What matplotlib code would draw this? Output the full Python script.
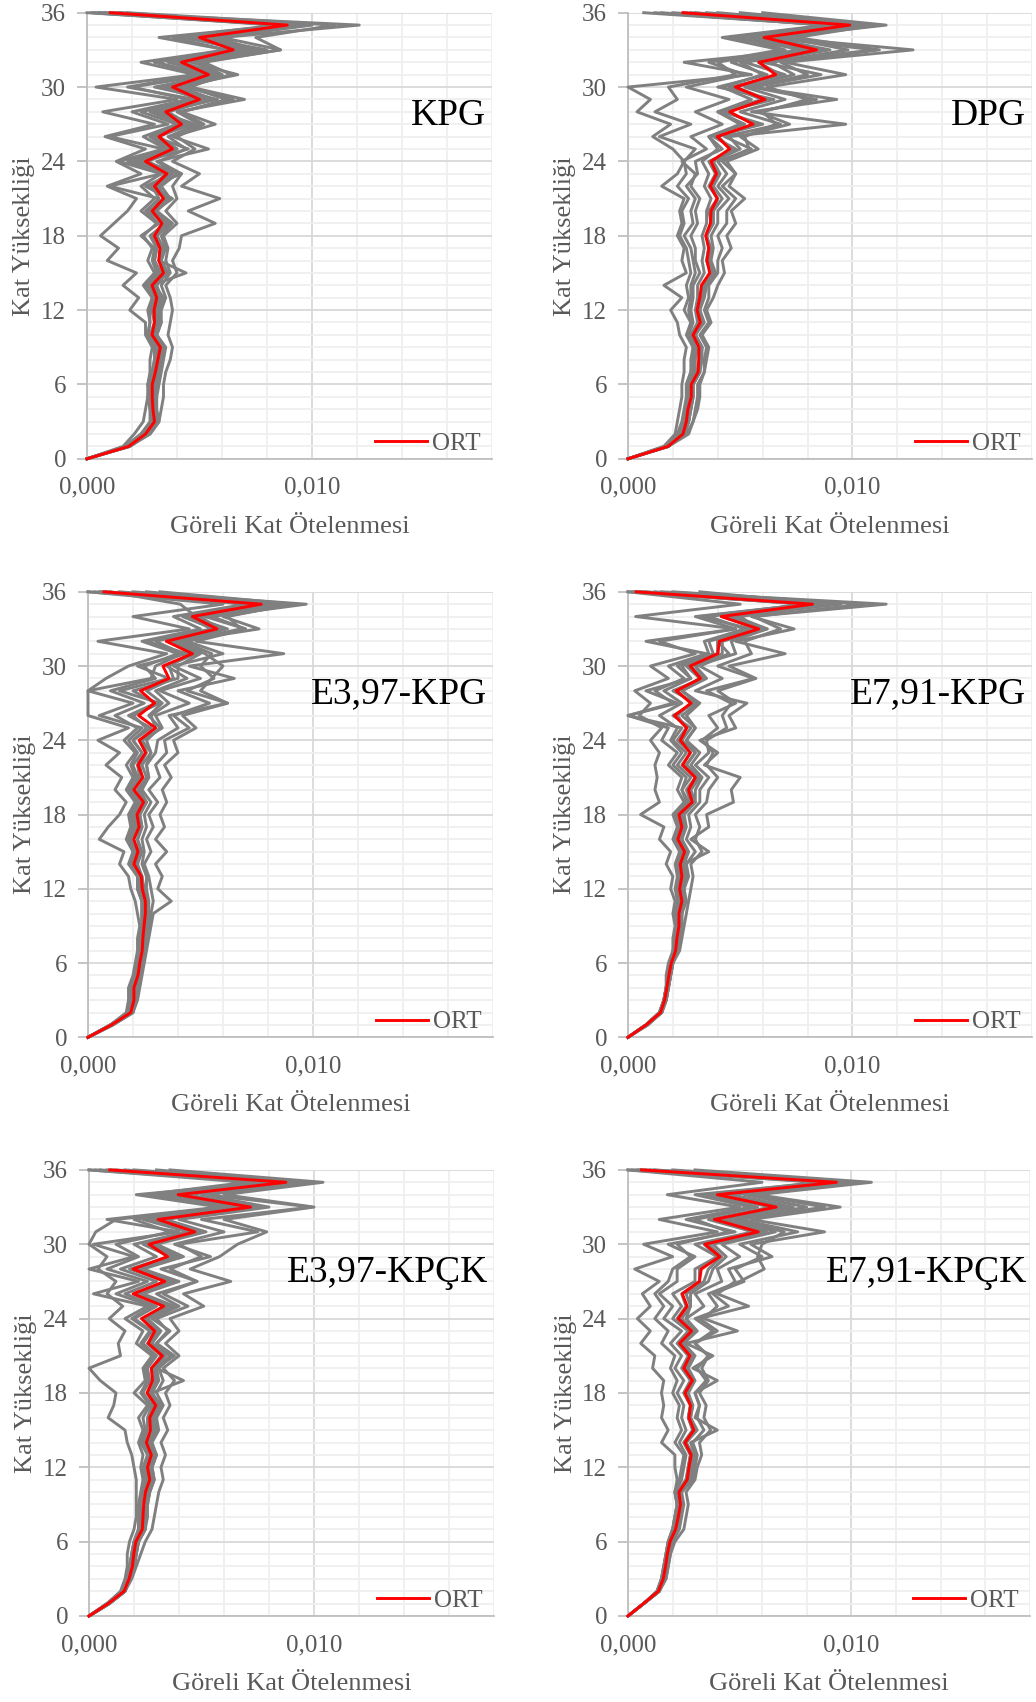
import matplotlib
matplotlib.use("Agg")
import matplotlib.pyplot as plt
from matplotlib.ticker import MultipleLocator, FuncFormatter

plt.rcParams['font.family'] = ['Liberation Serif', 'DejaVu Serif']

# Interstorey drift ratios, in units of 1e-4, for stories 0..36
stories = list(range(37))

kpg_ort = [0, 18.5, 26, 30, 29.3, 29, 29, 30.4, 31.5, 32.6, 28.9, 30, 29.8, 31, 28.9, 34, 31.9, 32.4, 30,
           33.3, 29, 34, 30, 35.5, 26, 38, 32, 42, 35, 50, 38, 54, 42, 65, 50, 89, 10.4]
kpg_records = [
    [0, 18, 28, 32, 33, 34, 34, 35, 37, 38, 36, 37, 38, 37, 35, 40, 38, 41, 42, 57, 45, 59, 42, 50, 38, 48, 40, 52, 42, 62, 45, 60, 50, 86, 60, 121, 5],
    [0, 17, 24, 29, 30, 30, 31, 32, 33, 34, 31, 33, 32, 34, 30, 36, 33, 34, 31, 37, 30, 38, 28, 42, 25, 45, 30, 48, 32, 58, 35, 60, 40, 78, 45, 92, 8],
    [0, 19, 27, 31, 30, 29, 28, 30, 31, 32, 29, 30, 29, 31, 27, 33, 30, 31, 28, 35, 27, 36, 26, 38, 20, 40, 28, 46, 30, 55, 30, 58, 36, 72, 42, 90, 3],
    [0, 16, 21, 25, 26, 27, 27, 28, 28, 29, 26, 26, 19, 23, 16, 22, 9, 14, 6, 12, 18, 22, 9, 24, 13, 26, 8, 30, 7, 40, 4, 48, 24, 62, 32, 88, 0],
    [0, 18, 26, 30, 29, 29, 30, 31, 32, 33, 30, 31, 30, 32, 29, 44, 32, 33, 31, 35, 28, 34, 32, 36, 24, 38, 30, 44, 34, 52, 40, 67, 46, 70, 55, 95, 12],
    [0, 18, 25, 29, 28, 28, 27, 29, 30, 31, 27, 28, 27, 29, 25, 30, 27, 29, 25, 31, 24, 30, 24, 33, 14, 34, 10, 36, 20, 45, 20, 55, 30, 75, 48, 85, 6],
    [0, 19, 28, 32, 31, 31, 32, 33, 34, 35, 31, 33, 33, 35, 33, 37, 35, 36, 34, 40, 35, 40, 38, 42, 32, 44, 36, 50, 40, 70, 46, 60, 42, 80, 50, 98, 15],
    [0, 17, 24, 28, 28, 27, 28, 29, 30, 30, 27, 28, 28, 29, 26, 31, 29, 30, 24, 32, 26, 32, 10, 33, 18, 35, 25, 40, 24, 48, 18, 50, 30, 62, 38, 84, 2],
    [0, 18, 27, 31, 30, 30, 30, 31, 32, 33, 30, 32, 31, 33, 31, 35, 33, 35, 33, 38, 31, 37, 33, 40, 31, 54, 38, 57, 42, 65, 44, 64, 52, 86, 75, 110, 18],
    [0, 18, 26, 30, 29, 28, 29, 30, 31, 31, 28, 30, 29, 30, 28, 32, 30, 31, 29, 34, 29, 32, 29, 35, 22, 36, 28, 42, 28, 50, 34, 52, 40, 68, 45, 87, 10],
    [0, 19, 27, 31, 30, 30, 30, 31, 33, 34, 30, 31, 31, 33, 30, 35, 32, 34, 31, 36, 30, 36, 31, 38, 27, 40, 32, 45, 36, 56, 42, 58, 48, 75, 58, 100, 14],
]

dpg_ort = [0, 17.8, 24.5, 26, 26.7, 28.2, 28.2, 31.2, 31.5, 31.6, 29, 32.2, 30.8, 32, 32.7, 36.4, 35.2, 36, 34.6,
           36.7, 37, 39.7, 36.7, 39.4, 37, 45.3, 39.8, 55.7, 45.3, 61, 47.8, 65.8, 58.4, 84, 60.6, 98.8, 24.5]
dpg_records = [
    [0, 17, 26, 29, 31, 32, 32, 34, 35, 36, 33, 37, 35, 38, 40, 43, 42, 46, 44, 48, 46, 52, 45, 48, 42, 54, 52, 66, 60, 80, 62, 97, 70, 127, 66, 115, 60],
    [0, 17, 24, 27, 28, 29, 29, 32, 32, 33, 30, 33, 32, 33, 34, 38, 36, 37, 35, 38, 38, 42, 38, 41, 38, 50, 45, 97, 55, 93, 56, 86, 60, 110, 62, 105, 40],
    [0, 16, 22, 24, 25, 26, 26, 28, 28, 29, 26, 28, 27, 28, 28, 30, 29, 28, 25, 29, 28, 30, 26, 31, 30, 42, 36, 50, 40, 60, 45, 70, 52, 88, 58, 96, 25],
    [0, 16, 21, 22, 23, 24, 24, 25, 25, 26, 23, 22, 19, 24, 16, 26, 24, 25, 22, 24, 23, 25, 15, 22, 25, 20, 11, 19, 4, 10, 0, 55, 25, 80, 45, 90, 7],
    [0, 18, 25, 27, 27, 28, 28, 31, 32, 32, 29, 32, 31, 33, 33, 37, 35, 36, 35, 38, 38, 40, 37, 40, 38, 46, 40, 57, 44, 62, 48, 68, 58, 90, 62, 100, 28],
    [0, 18, 25, 27, 28, 29, 29, 32, 33, 33, 30, 34, 32, 34, 35, 39, 37, 38, 37, 40, 40, 45, 40, 44, 40, 55, 43, 68, 50, 70, 52, 74, 64, 98, 70, 108, 35],
    [0, 17, 23, 25, 26, 27, 27, 29, 29, 30, 27, 28, 25, 27, 26, 28, 27, 26, 23, 25, 24, 27, 22, 26, 25, 30, 14, 28, 12, 22, 18, 48, 40, 70, 50, 88, 12],
    [0, 18, 24, 26, 27, 28, 28, 30, 30, 31, 28, 31, 30, 31, 31, 34, 33, 34, 33, 35, 35, 37, 34, 36, 33, 40, 36, 52, 40, 55, 42, 60, 50, 82, 56, 95, 20],
    [0, 18, 27, 29, 30, 31, 31, 34, 34, 35, 32, 36, 34, 36, 36, 40, 40, 42, 40, 44, 44, 48, 42, 48, 44, 58, 50, 72, 58, 84, 55, 80, 68, 112, 75, 110, 50],
    [0, 17, 23, 25, 26, 26, 26, 28, 29, 29, 27, 29, 28, 29, 29, 32, 30, 30, 28, 31, 30, 32, 28, 30, 24, 35, 28, 42, 30, 45, 26, 52, 36, 68, 42, 88, 15],
    [0, 18, 25, 27, 28, 29, 29, 32, 32, 33, 30, 33, 31, 33, 34, 37, 35, 36, 35, 37, 36, 40, 36, 39, 36, 48, 38, 60, 42, 65, 40, 62, 46, 76, 54, 98, 30],
]

e397_kpg_ort = [0, 10.4, 19, 20.4, 20.4, 22.2, 23, 24.1, 24.4, 24.9, 25.5, 25.5, 24.1, 23.7, 20.4, 22.2, 20.4, 22.7,
                21.8, 24.7, 20.4, 24.4, 22.2, 25.6, 22.7, 30, 22.5, 29.6, 23.3, 36, 33.3, 46.4, 34.8, 57.3, 46.4, 77, 7.1]
e397_kpg_records = [
    [0, 10, 19, 21, 22, 23, 24, 25, 26, 27, 28, 29, 28, 27, 25, 28, 26, 29, 27, 31, 27, 32, 30, 35, 34, 45, 38, 54, 40, 65, 45, 87, 48, 70, 55, 97, 20],
    [0, 11, 20, 22, 23, 24, 25, 26, 27, 28, 29, 37, 31, 33, 30, 35, 30, 34, 32, 35, 33, 37, 34, 40, 38, 48, 42, 62, 50, 55, 60, 52, 40, 76, 60, 92, 32],
    [0, 10, 18, 20, 20, 21, 22, 23, 23, 24, 24, 24, 22, 22, 18, 20, 17, 19, 18, 21, 17, 20, 17, 21, 16, 22, 12, 25, 10, 30, 25, 40, 24, 50, 38, 70, 3],
    [0, 10, 17, 18, 18, 20, 21, 22, 22, 23, 22, 21, 19, 18, 14, 16, 5, 9, 14, 17, 12, 15, 8, 14, 4.4, 18, 0, 0, 0, 8, 18, 35, 4.4, 45, 20, 60, 0],
    [0, 11, 19, 21, 21, 22, 23, 24, 25, 25, 26, 25, 24, 24, 21, 23, 22, 24, 23, 26, 22, 26, 24, 28, 26, 32, 27, 33, 26, 38, 36, 46, 36, 58, 50, 82, 8],
    [0, 10, 19, 20, 20, 22, 23, 24, 24, 24, 25, 25, 23, 23, 20, 21, 20, 22, 21, 24, 19, 23, 22, 24, 20, 28, 18, 30, 20, 40, 40, 50, 40, 62, 46, 78, 5],
    [0, 11, 20, 21, 21, 23, 24, 25, 25, 26, 27, 27, 26, 26, 24, 25, 24, 26, 25, 28, 24, 27, 26, 28, 24, 33, 30, 45, 32, 50, 38, 60, 44, 70, 52, 88, 14],
    [0, 10, 19, 20, 20, 22, 22, 23, 23, 24, 24, 24, 22, 22, 19, 20, 18, 20, 19, 22, 18, 21, 19, 22, 18, 24, 5, 20, 0, 28, 30, 42, 30, 55, 44, 75, 0],
    [0, 10, 18, 19, 19, 21, 22, 23, 24, 24, 25, 25, 24, 23, 20, 22, 20, 23, 22, 24, 20, 24, 23, 26, 24, 30, 28, 36, 30, 44, 35, 48, 38, 60, 48, 41, 10],
    [0, 11, 20, 21, 21, 22, 24, 25, 25, 26, 26, 26, 25, 24, 22, 24, 22, 24, 23, 26, 23, 27, 26, 30, 31, 40, 36, 62, 44, 56, 50, 55, 42, 68, 62, 90, 26],
    [0, 10, 19, 20, 20, 21, 22, 23, 23, 24, 24, 24, 22, 23, 19, 21, 19, 21, 20, 23, 20, 22, 20, 24, 20, 26, 20, 32, 14, 36, 22, 44, 26, 56, 42, 72, 6],
]

e791_kpg_ort = [0, 8.1, 14.5, 16.3, 17.3, 18.2, 19.3, 21.2, 21.8, 22.7, 22.7, 24, 23, 24, 23.3, 25.2, 22.2, 24, 22.7,
                28.6, 27, 30, 24.4, 27.7, 23.3, 26.2, 20.7, 28.1, 21.5, 32.3, 27.7, 40, 40.7, 58.2, 41.5, 82.2, 3.7]
e791_kpg_records = [
    [0, 8, 15, 17, 18, 19, 20, 23, 24, 25, 26, 27, 28, 29, 28, 33, 30, 32, 30, 35, 36, 40, 35, 38, 33, 40, 36, 48, 40, 57, 45, 70, 48, 74, 55, 115, 15],
    [0, 8, 14, 16, 17, 18, 19, 21, 22, 23, 23, 25, 24, 26, 25, 36, 28, 36, 35, 47, 46, 50, 34, 40, 32, 48, 45, 53, 30, 42, 32, 45, 40, 60, 45, 95, 5],
    [0, 8, 14, 16, 17, 17, 18, 20, 20, 21, 20, 21, 19, 20, 17, 19, 14, 16, 5.6, 14, 12, 13, 12, 14, 10, 15, 5, 10, 3, 18, 10, 30, 14, 48, 30, 80, 0],
    [0, 8, 15, 16, 17, 18, 19, 21, 21, 22, 22, 23, 22, 23, 22, 24, 22, 23, 22, 27, 24, 28, 22, 26, 20, 24, 0, 22, 8, 28, 22, 36, 34, 52, 36, 78, 3],
    [0, 9, 15, 17, 18, 19, 20, 22, 23, 24, 24, 25, 25, 26, 25, 27, 24, 26, 25, 30, 30, 33, 28, 32, 26, 30, 26, 32, 24, 35, 30, 42, 42, 62, 44, 85, 8],
    [0, 8, 14, 16, 17, 18, 19, 21, 21, 22, 22, 23, 22, 23, 22, 24, 21, 23, 21, 26, 24, 26, 20, 24, 19, 22, 14, 24, 16, 28, 24, 38, 36, 55, 32, 80, 2],
    [0, 8, 15, 16, 17, 18, 19, 21, 22, 23, 23, 25, 23, 25, 24, 26, 24, 25, 24, 30, 28, 32, 26, 30, 24, 28, 20, 30, 20, 33, 28, 40, 40, 58, 42, 82, 6],
    [0, 8, 14, 16, 17, 18, 19, 20, 21, 22, 21, 22, 21, 22, 21, 23, 20, 22, 20, 25, 22, 24, 18, 22, 15, 18, 0, 20, 12, 25, 18, 35, 8, 48, 3.4, 50, 0],
    [0, 8, 15, 17, 18, 19, 20, 22, 23, 24, 24, 26, 25, 27, 26, 30, 26, 28, 27, 32, 32, 36, 30, 36, 35, 44, 42, 46, 35, 56, 40, 55, 52, 68, 56, 105, 20],
    [0, 8, 14, 16, 17, 18, 19, 21, 22, 22, 22, 24, 22, 24, 23, 25, 22, 24, 23, 28, 26, 30, 24, 28, 22, 26, 22, 28, 22, 32, 26, 40, 40, 58, 50, 88, 12],
    [0, 8, 15, 17, 18, 19, 20, 22, 22, 23, 24, 25, 24, 25, 24, 26, 23, 25, 24, 29, 27, 31, 26, 30, 26, 30, 24, 31, 24, 34, 30, 48, 46, 62, 48, 90, 32],
]

e397_kpck_ort = [0, 8.5, 15.6, 17.8, 19.3, 19.9, 20.8, 23.7, 24, 24.3, 25.1, 27, 26, 27.7, 25.5, 27.3, 27, 29.7, 25.8,
                 28.2, 27.7, 32.6, 26.3, 29.2, 23.3, 33.2, 19.6, 33.7, 19.6, 34.9, 26.7, 47, 30.7, 71.8, 39.6, 87.5, 9.2]
e397_kpck_records = [
    [0, 9, 16, 19, 21, 23, 25, 28, 29, 30, 31, 33, 32, 34, 32, 35, 33, 36, 34, 38, 33, 40, 34, 40, 36, 51, 42, 63, 45, 58, 66, 79, 60, 100, 60, 104, 36],
    [0, 9, 16, 18, 20, 20, 21, 24, 25, 25, 26, 28, 27, 29, 27, 30, 29, 31, 28, 42, 30, 38, 30, 36, 28, 40, 30, 48, 36, 50, 40, 75, 50, 99, 52, 98, 20],
    [0, 8, 14, 16, 17, 17, 18, 20, 21, 21, 21, 21, 20, 19, 17, 16, 8.5, 11, 12, 5, 0, 14, 13, 16, 9, 15, 8, 12, 4, 8, 0, 3, 12, 60, 25, 70, 0],
    [0, 8, 15, 17, 18, 19, 20, 22, 22, 22, 23, 24, 23, 24, 22, 24, 22, 26, 20, 25, 24, 28, 21, 24, 16, 26, 2, 22, 0, 20, 2, 40, 8, 58, 21, 80, 0],
    [0, 9, 16, 18, 20, 21, 22, 25, 25, 26, 27, 29, 28, 30, 27, 30, 29, 32, 28, 31, 30, 36, 28, 32, 26, 38, 24, 40, 24, 42, 30, 52, 34, 75, 40, 88, 10],
    [0, 8, 15, 17, 19, 19, 20, 23, 23, 23, 24, 26, 25, 27, 24, 26, 26, 28, 24, 27, 26, 30, 24, 28, 20, 30, 16, 30, 14, 30, 20, 44, 24, 66, 34, 84, 5],
    [0, 9, 16, 18, 20, 21, 22, 25, 25, 25, 26, 28, 27, 29, 26, 29, 28, 31, 27, 30, 29, 34, 27, 31, 25, 36, 22, 38, 22, 40, 28, 50, 30, 72, 38, 90, 12],
    [0, 8, 15, 17, 18, 19, 20, 22, 23, 23, 24, 25, 24, 26, 23, 25, 24, 27, 23, 26, 25, 29, 23, 27, 19, 28, 12, 26, 8, 22, 12, 36, 20, 62, 30, 78, 3],
    [0, 9, 16, 18, 20, 21, 22, 25, 26, 26, 27, 29, 28, 30, 28, 31, 30, 33, 30, 33, 31, 37, 30, 35, 30, 44, 33, 48, 32, 54, 38, 60, 40, 80, 50, 96, 30],
    [0, 9, 16, 18, 19, 20, 21, 24, 24, 25, 25, 27, 26, 28, 25, 28, 27, 29, 26, 29, 28, 32, 26, 30, 24, 34, 20, 34, 18, 36, 24, 48, 28, 70, 36, 86, 8],
    [0, 9, 16, 18, 20, 21, 21, 24, 25, 25, 26, 28, 27, 29, 26, 29, 28, 30, 27, 30, 28, 33, 27, 31, 24, 36, 22, 36, 20, 38, 26, 50, 28, 74, 44, 92, 16],
]

e791_kpck_ort = [0, 6.9, 13.6, 15.8, 16.8, 17.6, 18.8, 21.3, 22.5, 23.5, 22.8, 26.5, 27.3, 28.3, 25.5, 29.5, 27.3, 28,
                 25.5, 28.8, 25, 27.7, 23.1, 28.5, 22.5, 26.5, 24.3, 32, 32.8, 41.1, 34.4, 58.3, 38.7, 66.3, 40, 93.3, 6.1]
e791_kpck_records = [
    [0, 7, 14, 17, 18, 19, 21, 25, 26, 27, 26, 30, 31, 33, 32, 37, 34, 35, 32, 36, 33, 36, 30, 40, 32, 54, 40, 48, 45, 64.5, 55, 88, 55, 95, 58, 109, 30],
    [0, 7, 14, 16, 17, 18, 19, 22, 23, 24, 24, 28, 29, 30, 28, 40, 30, 32, 30, 40, 29, 38, 26, 49, 34, 40, 36, 50, 61, 58, 60, 70, 48, 80, 52, 100, 12],
    [0, 7, 13, 15, 16, 17, 18, 20, 21, 22, 21, 22, 21, 21, 15, 18, 15, 16, 15, 16, 11, 12, 5.7, 10, 4.2, 10, 6.4, 14, 3, 20, 7, 40, 14, 50, 17.6, 60, 0],
    [0, 7, 13, 15, 16, 17, 18, 20, 21, 22, 21, 23, 24, 25, 21, 24, 22, 23, 20, 22, 19, 21, 15, 18, 12, 16, 12, 18, 20, 28, 22, 45, 30, 58, 35, 85, 2],
    [0, 7, 14, 16, 17, 18, 19, 22, 23, 24, 23, 27, 28, 29, 26, 30, 28, 29, 26, 29, 26, 28, 24, 30, 26, 28, 28, 36, 38, 44, 38, 62, 40, 70, 42, 96, 8],
    [0, 7, 14, 16, 17, 18, 19, 21, 22, 23, 22, 26, 27, 28, 25, 29, 27, 28, 25, 28, 24, 27, 22, 27, 20, 24, 20, 30, 30, 40, 30, 56, 36, 64, 38, 92, 5],
    [0, 7, 14, 16, 17, 18, 19, 22, 23, 24, 23, 27, 28, 29, 26, 31, 28, 29, 27, 30, 27, 30, 25, 31, 26, 34, 30, 42, 40, 50, 42, 66, 44, 74, 46, 98, 10],
    [0, 7, 13, 15, 16, 17, 18, 20, 21, 22, 21, 24, 25, 26, 23, 26, 24, 25, 22, 25, 21, 24, 19, 24, 16, 20, 14, 22, 22, 30, 18, 48, 26, 55, 30, 88, 0],
    [0, 7, 14, 17, 18, 19, 20, 23, 24, 25, 24, 29, 30, 31, 29, 34, 31, 32, 30, 35, 31, 36, 30, 38, 30, 45, 38, 52, 48, 60, 50, 76, 50, 88, 56, 104, 20],
    [0, 7, 14, 16, 17, 18, 19, 21, 22, 23, 22, 26, 27, 28, 25, 29, 27, 28, 25, 28, 25, 28, 23, 28, 22, 26, 24, 32, 32, 40, 34, 58, 38, 66, 40, 94, 4],
    [0, 7, 14, 16, 17, 18, 19, 22, 23, 24, 23, 27, 27, 28, 26, 30, 27, 28, 26, 29, 26, 29, 24, 29, 24, 28, 26, 34, 36, 42, 36, 60, 42, 68, 44, 92, 6],
]

panel_titles = ["KPG", "DPG", "E3,97-KPG", "E7,91-KPG", "E3,97-KPÇK", "E7,91-KPÇK"]
panel_ort = [kpg_ort, dpg_ort, e397_kpg_ort, e791_kpg_ort, e397_kpck_ort, e791_kpck_ort]
panel_records = [kpg_records, dpg_records, e397_kpg_records, e791_kpg_records,
                 e397_kpck_records, e791_kpck_records]

x_label = "Göreli Kat Ötelenmesi"
y_label = "Kat Yüksekliği"
legend_label = "ORT"
SCALE = 1e-4

W, H = 1036, 1702
fig = plt.figure(figsize=(W / 100, H / 100), dpi=100)
fig.patch.set_facecolor("white")

# pixel boxes (left, right, top, bottom) of each plotting area
boxes = [
    (87, 492, 12.7, 458.8), (628, 1032, 12.7, 458.8),
    (88, 493, 591.8, 1037.3), (628, 1032, 591.8, 1037.3),
    (89, 494, 1169.9, 1616), (628, 1030, 1169.9, 1616),
]
title_x = [0.985, 0.985, 0.985, 0.985, 0.985, 0.992]

TXT = "#595959"
AXC = "#bfbfbf"

for i, (l, r, t, b) in enumerate(boxes):
    ax = fig.add_axes([l / W, 1 - b / H, (r - l) / W, (b - t) / H])
    ax.set_xlim(0, 0.018)
    ax.set_ylim(0, 36)

    ax.xaxis.set_major_locator(MultipleLocator(0.010))
    ax.xaxis.set_minor_locator(MultipleLocator(0.002))
    ax.yaxis.set_major_locator(MultipleLocator(6))
    ax.yaxis.set_minor_locator(MultipleLocator(1))
    ax.xaxis.set_major_formatter(FuncFormatter(lambda v, p: f"{v:.3f}".replace(".", ",")))

    ax.grid(which="minor", color="#efefef", linewidth=1.3)
    ax.grid(which="major", color="#d9d9d9", linewidth=1.3)
    ax.set_axisbelow(True)

    for s in ("top", "right"):
        ax.spines[s].set_visible(False)
    for s in ("left", "bottom"):
        ax.spines[s].set_color(AXC)
        ax.spines[s].set_linewidth(1.3)

    ax.tick_params(axis="y", which="major", length=7, width=1.3, color=AXC,
                   labelsize=18, labelcolor=TXT, pad=8)
    ax.tick_params(axis="x", which="major", length=0, labelsize=18, labelcolor=TXT, pad=13)
    ax.tick_params(which="minor", length=0)

    for rec in panel_records[i]:
        ax.plot([v * SCALE for v in rec], stories, color="#808080", linewidth=2.1,
                clip_on=False, zorder=3)
    red, = ax.plot([v * SCALE for v in panel_ort[i]], stories, color="#ff0000", linewidth=2.1,
                   clip_on=False, zorder=4, label=legend_label)

    ax.set_xlabel(x_label, fontsize=19, color=TXT)
    ax.set_ylabel(y_label, fontsize=19, color=TXT)
    ax.xaxis.label.set_va("center")
    ax.yaxis.label.set_va("center")
    ax.xaxis.set_label_coords(0.5, -0.152)
    ax.yaxis.set_label_coords(-0.155, 0.5)

    ax.text(title_x[i], 0.77, panel_titles[i], transform=ax.transAxes, ha="right", va="center",
            fontsize=27, color="black", zorder=6)

    leg = ax.legend(handles=[red], loc="lower right", bbox_to_anchor=(0.972, 0.009),
                    frameon=False, fontsize=18, handlelength=2.1, handletextpad=0.2,
                    borderpad=0, borderaxespad=0, labelcolor=TXT)
    leg.set_zorder(7)

fig.savefig("out.png", dpi=100, facecolor="white")
